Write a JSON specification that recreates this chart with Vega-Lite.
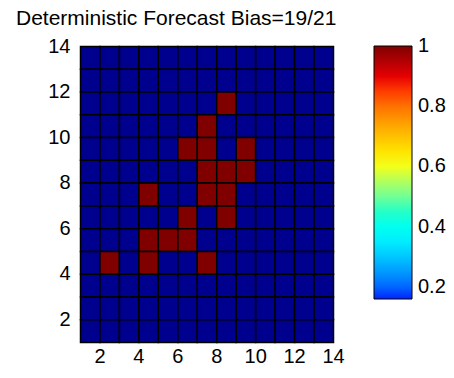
{
  "$schema": "https://vega.github.io/schema/vega-lite/v6.json",
  "autosize": "none",
  "padding": {"left": 80, "top": 46, "right": 121, "bottom": 36},
  "width": 253,
  "height": 296,
  "background": "white",
  "config": {
    "view": {"stroke": null},
    "font": "Liberation Sans"
  },
  "title": {
    "text": "Deterministic Forecast Bias=19/21",
    "anchor": "start",
    "frame": "group",
    "dx": -64,
    "offset": 7,
    "fontSize": 21,
    "fontWeight": "normal",
    "color": "black",
    "font": "Liberation Sans"
  },
  "data": {
    "values": [
      {"x":1,"y":13,"v":0},{"x":2,"y":13,"v":0},{"x":3,"y":13,"v":0},{"x":4,"y":13,"v":0},{"x":5,"y":13,"v":0},{"x":6,"y":13,"v":0},{"x":7,"y":13,"v":0},{"x":8,"y":13,"v":0},{"x":9,"y":13,"v":0},{"x":10,"y":13,"v":0},{"x":11,"y":13,"v":0},{"x":12,"y":13,"v":0},{"x":13,"y":13,"v":0},
      {"x":1,"y":12,"v":0},{"x":2,"y":12,"v":0},{"x":3,"y":12,"v":0},{"x":4,"y":12,"v":0},{"x":5,"y":12,"v":0},{"x":6,"y":12,"v":0},{"x":7,"y":12,"v":0},{"x":8,"y":12,"v":0},{"x":9,"y":12,"v":0},{"x":10,"y":12,"v":0},{"x":11,"y":12,"v":0},{"x":12,"y":12,"v":0},{"x":13,"y":12,"v":0},
      {"x":1,"y":11,"v":0},{"x":2,"y":11,"v":0},{"x":3,"y":11,"v":0},{"x":4,"y":11,"v":0},{"x":5,"y":11,"v":0},{"x":6,"y":11,"v":0},{"x":7,"y":11,"v":0},{"x":8,"y":11,"v":1},{"x":9,"y":11,"v":0},{"x":10,"y":11,"v":0},{"x":11,"y":11,"v":0},{"x":12,"y":11,"v":0},{"x":13,"y":11,"v":0},
      {"x":1,"y":10,"v":0},{"x":2,"y":10,"v":0},{"x":3,"y":10,"v":0},{"x":4,"y":10,"v":0},{"x":5,"y":10,"v":0},{"x":6,"y":10,"v":0},{"x":7,"y":10,"v":1},{"x":8,"y":10,"v":0},{"x":9,"y":10,"v":0},{"x":10,"y":10,"v":0},{"x":11,"y":10,"v":0},{"x":12,"y":10,"v":0},{"x":13,"y":10,"v":0},
      {"x":1,"y":9,"v":0},{"x":2,"y":9,"v":0},{"x":3,"y":9,"v":0},{"x":4,"y":9,"v":0},{"x":5,"y":9,"v":0},{"x":6,"y":9,"v":1},{"x":7,"y":9,"v":1},{"x":8,"y":9,"v":0},{"x":9,"y":9,"v":1},{"x":10,"y":9,"v":0},{"x":11,"y":9,"v":0},{"x":12,"y":9,"v":0},{"x":13,"y":9,"v":0},
      {"x":1,"y":8,"v":0},{"x":2,"y":8,"v":0},{"x":3,"y":8,"v":0},{"x":4,"y":8,"v":0},{"x":5,"y":8,"v":0},{"x":6,"y":8,"v":0},{"x":7,"y":8,"v":1},{"x":8,"y":8,"v":1},{"x":9,"y":8,"v":1},{"x":10,"y":8,"v":0},{"x":11,"y":8,"v":0},{"x":12,"y":8,"v":0},{"x":13,"y":8,"v":0},
      {"x":1,"y":7,"v":0},{"x":2,"y":7,"v":0},{"x":3,"y":7,"v":0},{"x":4,"y":7,"v":1},{"x":5,"y":7,"v":0},{"x":6,"y":7,"v":0},{"x":7,"y":7,"v":1},{"x":8,"y":7,"v":1},{"x":9,"y":7,"v":0},{"x":10,"y":7,"v":0},{"x":11,"y":7,"v":0},{"x":12,"y":7,"v":0},{"x":13,"y":7,"v":0},
      {"x":1,"y":6,"v":0},{"x":2,"y":6,"v":0},{"x":3,"y":6,"v":0},{"x":4,"y":6,"v":0},{"x":5,"y":6,"v":0},{"x":6,"y":6,"v":1},{"x":7,"y":6,"v":0},{"x":8,"y":6,"v":1},{"x":9,"y":6,"v":0},{"x":10,"y":6,"v":0},{"x":11,"y":6,"v":0},{"x":12,"y":6,"v":0},{"x":13,"y":6,"v":0},
      {"x":1,"y":5,"v":0},{"x":2,"y":5,"v":0},{"x":3,"y":5,"v":0},{"x":4,"y":5,"v":1},{"x":5,"y":5,"v":1},{"x":6,"y":5,"v":1},{"x":7,"y":5,"v":0},{"x":8,"y":5,"v":0},{"x":9,"y":5,"v":0},{"x":10,"y":5,"v":0},{"x":11,"y":5,"v":0},{"x":12,"y":5,"v":0},{"x":13,"y":5,"v":0},
      {"x":1,"y":4,"v":0},{"x":2,"y":4,"v":1},{"x":3,"y":4,"v":0},{"x":4,"y":4,"v":1},{"x":5,"y":4,"v":0},{"x":6,"y":4,"v":0},{"x":7,"y":4,"v":1},{"x":8,"y":4,"v":0},{"x":9,"y":4,"v":0},{"x":10,"y":4,"v":0},{"x":11,"y":4,"v":0},{"x":12,"y":4,"v":0},{"x":13,"y":4,"v":0},
      {"x":1,"y":3,"v":0},{"x":2,"y":3,"v":0},{"x":3,"y":3,"v":0},{"x":4,"y":3,"v":0},{"x":5,"y":3,"v":0},{"x":6,"y":3,"v":0},{"x":7,"y":3,"v":0},{"x":8,"y":3,"v":0},{"x":9,"y":3,"v":0},{"x":10,"y":3,"v":0},{"x":11,"y":3,"v":0},{"x":12,"y":3,"v":0},{"x":13,"y":3,"v":0},
      {"x":1,"y":2,"v":0},{"x":2,"y":2,"v":0},{"x":3,"y":2,"v":0},{"x":4,"y":2,"v":0},{"x":5,"y":2,"v":0},{"x":6,"y":2,"v":0},{"x":7,"y":2,"v":0},{"x":8,"y":2,"v":0},{"x":9,"y":2,"v":0},{"x":10,"y":2,"v":0},{"x":11,"y":2,"v":0},{"x":12,"y":2,"v":0},{"x":13,"y":2,"v":0},
      {"x":1,"y":1,"v":0},{"x":2,"y":1,"v":0},{"x":3,"y":1,"v":0},{"x":4,"y":1,"v":0},{"x":5,"y":1,"v":0},{"x":6,"y":1,"v":0},{"x":7,"y":1,"v":0},{"x":8,"y":1,"v":0},{"x":9,"y":1,"v":0},{"x":10,"y":1,"v":0},{"x":11,"y":1,"v":0},{"x":12,"y":1,"v":0},{"x":13,"y":1,"v":0}
    ]
  },
  "mark": {"type": "rect", "stroke": "black", "strokeWidth": 1.5},
  "encoding": {
    "x": {
      "field": "x", "type": "quantitative",
      "bin": {"binned": true, "step": 1},
      "scale": {"domain": [1, 14], "nice": false, "zero": false},
      "axis": {"title": null, "values": [2,4,6,8,10,12,14], "ticks": false, "domain": false, "grid": false,
               "labelFontSize": 20, "labelColor": "black", "labelPadding": 4, "labelFont": "Liberation Sans", "labelFlush": false}
    },
    "y": {
      "field": "y", "type": "quantitative",
      "bin": {"binned": true, "step": 1},
      "scale": {"domain": [1, 14], "nice": false, "zero": false},
      "axis": {"title": null, "values": [2,4,6,8,10,12,14], "ticks": false, "domain": false, "grid": false,
               "labelFontSize": 20, "labelColor": "black", "labelPadding": 10, "labelFont": "Liberation Sans", "labelFlush": false}
    },
    "fill": {
      "condition": {"test": "datum.v < 0.5", "value": "#00008F"},
      "field": "v", "type": "quantitative",
      "scale": {"domain": [0.16, 0.375, 0.61, 0.875, 1], "range": ["#0024FF", "#00FFFF", "#FFFF00", "#FF0000", "#800000"]},
      "legend": {
        "title": null, "orient": "right", "offset": 41,
        "gradientLength": 253, "gradientThickness": 38,
        "gradientStrokeColor": "black", "gradientStrokeWidth": 1,
        "values": [0.2, 0.4, 0.6, 0.8, 1],
        "format": ".1~f",
        "labelFontSize": 20, "labelColor": "black", "labelOffset": 6, "labelFont": "Liberation Sans",
        "labelBaseline": "middle",
        "encode": {"labels": {"update": {"baseline": {"value": "middle"}}}}
      }
    }
  }
}
